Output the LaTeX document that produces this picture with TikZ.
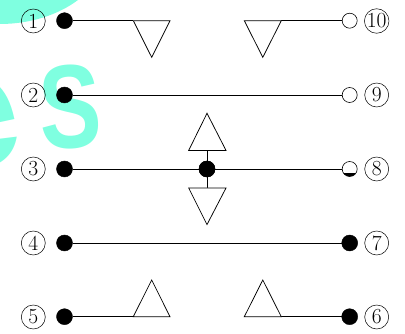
\documentclass[tikz,border=0pt]{standalone}
\usepackage{fontspec}
\newfontfamily\wmfont{Liberation Sans}
\definecolor{wm}{RGB}{127,255,224}
\tikzset{x=1pt,y=-1pt,
 wire/.style={draw=black,line width=0.75pt},
 tri/.style={draw=black,line width=0.75pt,line join=miter,fill=white},
 full/.style={circle,fill=black,draw=black,minimum size=16pt,inner sep=0pt},
 hollow/.style={circle,fill=white,draw=black,line width=0.6pt,minimum size=15pt,inner sep=0pt},
 num/.style={circle,draw=black,line width=0.5pt,minimum size=24pt,inner sep=0pt,font=\fontsize{21.5}{21.5}\selectfont},
 wmtext/.style={text=wm,inner sep=0pt}}
\begin{document}
\begin{tikzpicture}
\useasboundingbox (0,0) rectangle (405,334);
\clip (0,0) rectangle (405,334);
% watermark
\fill[wm] (0,0) -- (78,0) .. controls (58,15) and (30,24) .. (0,24) -- cycle;
\node[wmtext,rotate=3,xscale=0.86,yscale=1.1,font=\wmfont\bfseries\fontsize{108}{108}\selectfont] (wms) at (70,107) {S};
\node[wmtext,rotate=12,font=\wmfont\bfseries\fontsize{170}{170}\selectfont] (wmc) at (-27,124) {e};
% terminals
\node[num] (n1) at (33.3,21) {1};
\node[num] (n2) at (33.3,95) {2};
\node[num] (n3) at (33.3,169) {3};
\node[num] (n4) at (33.3,243) {4};
\node[num] (n5) at (33.3,317) {5};
\node[num] (n10) at (376.7,21) {10};
\node[num] (n9) at (376.7,95) {9};
\node[num] (n8) at (376.7,169) {8};
\node[num] (n7) at (376.7,243) {7};
\node[num] (n6) at (376.7,317) {6};
\node[full] (a1) at (64.5,20.7) {};
\node[full] (a2) at (64.5,95) {};
\node[full] (a3) at (64.5,169) {};
\node[full] (a4) at (64.5,243) {};
\node[full] (a5) at (64.5,316.7) {};
\node[hollow] (b10) at (349.7,20.7) {};
\node[hollow] (b9) at (349.7,95) {};
\node[hollow] (b8) at (349.7,169) {};
\node[full] (b7) at (349.7,243) {};
\node[full] (b6) at (349.7,316.7) {};
\node[full] (c) at (207,169) {};
% triangles
\coordinate (t1) at (133.3,20.7); \coordinate (t1r) at (170,20.7); \coordinate (t1b) at (151.7,57.3);
\coordinate (t10) at (244.3,20.7); \coordinate (t10r) at (281.3,20.7); \coordinate (t10b) at (262.8,57.3);
\coordinate (t5) at (133.3,316.7); \coordinate (t5r) at (170,316.7); \coordinate (t5b) at (151.7,280);
\coordinate (t6) at (244.3,316.7); \coordinate (t6r) at (281.3,316.7); \coordinate (t6b) at (262.8,280);
\coordinate (u1) at (188.7,150.4); \coordinate (u2) at (226,150.4); \coordinate (u3) at (207,113.3);
\coordinate (d1) at (188.7,188); \coordinate (d2) at (226,188); \coordinate (d3) at (207,224.6);
\draw[wire] (a1) -- (t1);
\draw[wire] (t10r) -- (b10);
\draw[wire] (a5) -- (t5);
\draw[wire] (t6r) -- (b6);
\draw[wire] (a2) -- (b9);
\draw[wire] (a3) -- (c);
\draw[wire] (c) -- (b8);
\draw[wire] (a4) -- (b7);
\draw[wire] (u1 -| c) -- (d1 -| c);
\draw[tri] (t1) -- (t1r) -- (t1b) -- cycle;
\draw[tri] (t10) -- (t10r) -- (t10b) -- cycle;
\draw[tri] (t5) -- (t5r) -- (t5b) -- cycle;
\draw[tri] (t6) -- (t6r) -- (t6b) -- cycle;
\draw[tri] (u1) -- (u2) -- (u3) -- cycle;
\draw[tri] (d1) -- (d2) -- (d3) -- cycle;
\node[full] at (c) {};
\begin{scope}
\clip (340,174) rectangle (360,180);
\fill[black] (b8) circle (7.5pt);
\end{scope}
\end{tikzpicture}
\end{document}
